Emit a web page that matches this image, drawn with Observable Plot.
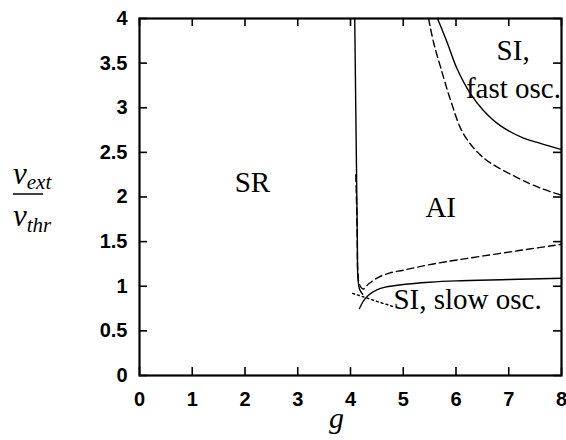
<!DOCTYPE html>
<html>
<head>
<meta charset="utf-8">
<script src="https://cdn.jsdelivr.net/npm/d3@7"></script>
<script src="https://cdn.jsdelivr.net/npm/@observablehq/plot@0.6"></script>
<style>
  body { margin: 0; background: #fff; }
  #chart svg { display: block; }
</style>
</head>
<body>
<div id="chart"></div>
<script>
// ---- data ----
const xTicks = [0, 1, 2, 3, 4, 5, 6, 7, 8];
const yTicks = [0, 0.5, 1, 1.5, 2, 2.5, 3, 3.5, 4];

// near-vertical solid boundary (SR | AI) ending in the knee
const solidVertG = [4.08, 4.09, 4.10, 4.11, 4.12, 4.13, 4.14, 4.17, 4.23];
const solidVertV = [4.0, 3.5, 3.0, 2.5, 2.0, 1.5, 1.1, 0.97, 0.91];

// lower solid boundary (AI | SI slow osc.)
const solidLowG = [4.17, 4.25, 4.34, 4.5, 4.66, 5.0, 5.5, 6.0, 7.0, 8.0];
const solidLowV = [0.75, 0.84, 0.90, 0.96, 0.99, 1.02, 1.045, 1.06, 1.075, 1.09];

// lower dashed boundary
const dashLowG = [4.10, 4.12, 4.13, 4.14, 4.17, 4.24, 4.35, 4.53, 4.75, 5.0, 5.57, 6.52, 8.0];
const dashLowV = [2.25, 1.8, 1.4, 1.15, 1.02, 0.97, 1.03, 1.10, 1.15, 1.18, 1.25, 1.34, 1.47];

// dotted boundary near the knee
const dotG = [4.04, 4.25, 4.5, 4.72, 4.82];
const dotV = [0.92, 0.88, 0.83, 0.79, 0.77];

// upper solid boundary (AI | SI fast osc.)
const upSolidG = [5.65, 5.84, 6.01, 6.27, 6.52, 6.84, 7.28, 7.6, 8.0];
const upSolidV = [4.0, 3.72, 3.45, 3.16, 2.97, 2.80, 2.66, 2.60, 2.53];

// upper dashed boundary
const upDashG = [5.48, 5.58, 5.71, 5.90, 6.14, 6.52, 7.15, 7.6, 8.0];
const upDashV = [4.0, 3.72, 3.45, 3.08, 2.71, 2.44, 2.22, 2.10, 2.02];

// region labels
const regionText = ["SR", "AI"];
const regionG = [2.14, 5.71];
const regionV = [2.16, 1.88];
const siText = ["SI,", "SI, slow osc."];
const siG = [6.77, 4.815];
const siV = [3.64, 0.85];
const fastText = ["fast osc."];
const fastG = [7.99];
const fastV = [3.21];

// ---- layout ----
const W = 566, H = 440;
const mL = 139, mR = 5, mT = 18, mB = 65;
const fh = H - mT - mB, fw = W - mL - mR;
const tickLen = 8;
const serif = "'Liberation Serif', 'Times New Roman', serif";

const pts = (gs, vs) => gs.map((g, i) => ({g, v: vs[i]}));
const lineOpts = {x: "g", y: "v", stroke: "#000", strokeWidth: 1.4, curve: "catmull-rom"};

const plot = Plot.plot({
  width: W, height: H,
  marginLeft: mL, marginRight: mR, marginTop: mT, marginBottom: mB,
  x: {domain: [0, 8]},
  y: {domain: [0, 4]},
  style: {fontFamily: "'Liberation Sans', Arial, sans-serif", background: "#fff", color: "#000"},
  marks: [
    Plot.frame({stroke: "#000", strokeWidth: 2.2}),
    Plot.tickX(xTicks, {x: d => d, insetTop: fh - tickLen, strokeWidth: 1.6}),
    Plot.tickX(xTicks, {x: d => d, insetBottom: fh - tickLen, strokeWidth: 1.6}),
    Plot.tickY(yTicks, {y: d => d, insetRight: fw - tickLen, strokeWidth: 1.6}),
    Plot.tickY(yTicks, {y: d => d, insetLeft: fw - tickLen, strokeWidth: 1.6}),
    Plot.axisX(xTicks, {tickSize: 0, tickPadding: 16, fontSize: 20, fontWeight: "bold", label: null, tickFormat: d => String(d)}),
    Plot.axisY(yTicks, {tickSize: 0, tickPadding: 12, fontSize: 20, fontWeight: "bold", label: null, tickFormat: d => String(d)}),
    Plot.line(pts(solidVertG, solidVertV), lineOpts),
    Plot.line(pts(solidLowG, solidLowV), lineOpts),
    Plot.line(pts(dashLowG, dashLowV), {...lineOpts, strokeDasharray: "7,4"}),
    Plot.line(pts(dotG, dotV), {...lineOpts, strokeDasharray: "2,3", curve: "linear"}),
    Plot.line(pts(upSolidG, upSolidV), lineOpts),
    Plot.line(pts(upDashG, upDashV), {...lineOpts, strokeDasharray: "7,4"}),
    Plot.text(regionText, {x: (d, i) => regionG[i], y: (d, i) => regionV[i], text: d => d, fontFamily: serif, fontSize: 29, textAnchor: "middle"}),
    Plot.text(siText, {x: (d, i) => siG[i], y: (d, i) => siV[i], text: d => d, fontFamily: serif, fontSize: 29, textAnchor: "start"}),
    Plot.text(fastText, {x: (d, i) => fastG[i], y: (d, i) => fastV[i], text: d => d, fontFamily: serif, fontSize: 29, textAnchor: "end"}),
    Plot.text(["g"], {frameAnchor: "bottom", dx: -14, dy: 52, text: d => d, fontFamily: serif, fontStyle: "italic", fontSize: 30})
  ]
});

// y-axis label: fraction nu_ext / nu_thr
const svg = d3.select(plot);
const lab = svg.append("g").attr("font-family", serif).attr("font-style", "italic")
  .attr("fill", "#000").attr("text-anchor", "start");
const t1 = lab.append("text").attr("x", 13).attr("y", 184);
t1.append("tspan").attr("font-size", 31).text("ν");
t1.append("tspan").attr("font-size", 21).attr("dy", 5).text("ext");
lab.append("line").attr("x1", 13).attr("x2", 43).attr("y1", 194).attr("y2", 194)
  .attr("stroke", "#000").attr("stroke-width", 1.5);
const t2 = lab.append("text").attr("x", 13).attr("y", 226);
t2.append("tspan").attr("font-size", 31).text("ν");
t2.append("tspan").attr("font-size", 21).attr("dy", 6).text("thr");

document.getElementById("chart").append(plot);
</script>
</body>
</html>
